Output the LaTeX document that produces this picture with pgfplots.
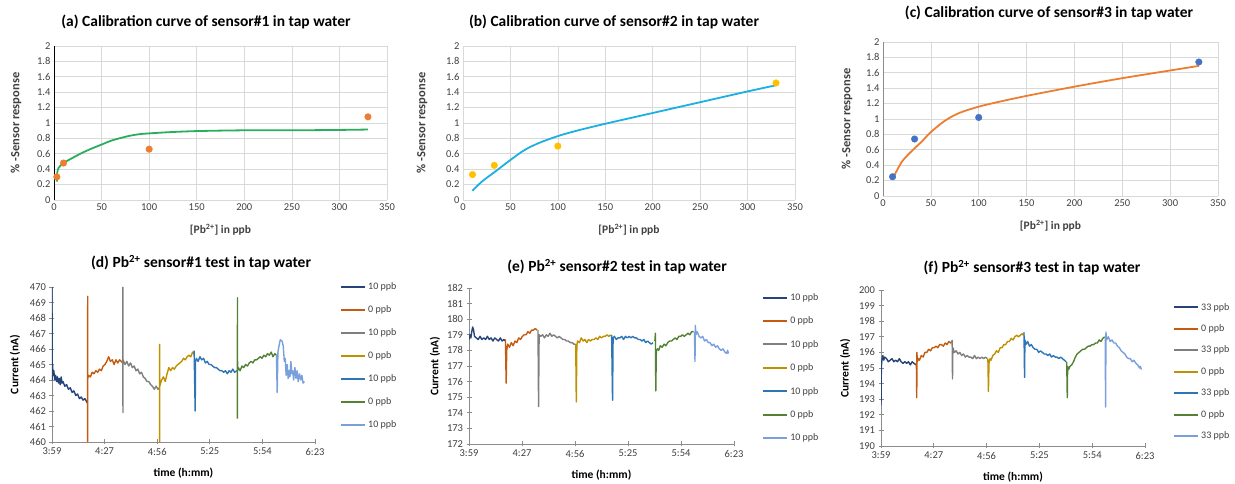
\documentclass[border=0pt]{standalone}
\usepackage{fontspec}
\setmainfont{Carlito}
\usepackage{pgfplots}
\pgfplotsset{compat=1.18}

\definecolor{txt}{HTML}{404040}
\definecolor{gridc}{HTML}{D9D9D9}
\definecolor{axc}{HTML}{8C8C8C}
\definecolor{fitgreen}{HTML}{2BAE5C}
\definecolor{fitcyan}{HTML}{1CB0E2}
\definecolor{fitorange}{HTML}{ED7D31}
\definecolor{ptorange}{HTML}{ED7D31}
\definecolor{ptyellow}{HTML}{FFC000}
\definecolor{ptblue}{HTML}{4472C4}
\definecolor{sA}{HTML}{264478}
\definecolor{sB}{HTML}{C55A11}
\definecolor{sC}{HTML}{7F7F7F}
\definecolor{sD}{HTML}{BF9000}
\definecolor{sE}{HTML}{2E75B6}
\definecolor{sF}{HTML}{548235}
\definecolor{sG}{HTML}{7A9FDD}

\pgfplotsset{
  calib/.style={
    scale only axis, width=333pt, height=154pt,
    xmin=0, xmax=350, ymin=0, ymax=2,
    xtick={0,50,100,150,200,250,300,350},
    ytick={0,0.2,0.4,0.6,0.8,1,1.2,1.4,1.6,1.8,2},
    grid=major, major grid style={gridc, line width=0.6pt},
    axis x line*=bottom, axis y line*=left,
    x axis line style={gridc, line width=0.8pt},
    tick style={draw=none},
    /pgf/number format/assume math mode=true,
    ticklabel style={font=\fontsize{10.5}{12}\selectfont, text=txt},
    xlabel={[Pb\textsuperscript{2+}] in ppb},
    ylabel={\% -Sensor response},
    xlabel style={font=\bfseries\fontsize{11.5}{13}\selectfont, text=txt,
      at={(axis description cs:0.5,-0.195)}, anchor=center},
    ylabel style={font=\bfseries\fontsize{12.5}{14}\selectfont, text=txt,
      anchor=center},
  },
  ts/.style={
    scale only axis, width=264pt, height=156pt,
    xmin=0, xmax=144,
    xtick={0,28.8,57.6,86.4,115.2,144},
    xticklabels={3:59,4:27,4:56,5:25,5:54,6:23},
    axis lines=left, axis line style={-, draw=axc, line width=0.8pt},
    tick align=center, major tick length=5pt,
    tick style={axc, line width=0.8pt},
    /pgf/number format/assume math mode=true,
    ticklabel style={font=\fontsize{10.5}{12}\selectfont, text=txt},
    xlabel={time (h:mm)},
    ylabel={Current (nA)},
    xlabel style={font=\bfseries\fontsize{11.5}{13}\selectfont, text=black,
      at={(axis description cs:0.5,-0.2)}, anchor=center},
    ylabel style={font=\bfseries\fontsize{11.5}{13}\selectfont, text=black,
      anchor=center},
    legend cell align=left,
    legend style={draw=none, fill=none, inner sep=0pt,
      font=\fontsize{10}{12}\selectfont, text=txt,
      row sep=11pt, anchor=north west},
    legend image code/.code={\draw[#1,line width=2pt] (0pt,0pt) -- (24pt,0pt);},
    every axis plot/.append style={line width=1.4pt, line join=round},
  },
}

\begin{document}
\begin{tikzpicture}[x=1pt,y=1pt]
\useasboundingbox (0,0) rectangle (1235,484);

% ---------- (a) ----------
\begin{axis}[calib, at={(54pt,284pt)}, anchor=south west,
  y axis line style={black, line width=1pt},
  ylabel style={at={(axis description cs:-0.114,0.5)}}]
\addplot[fitgreen, line width=1.8pt, smooth] coordinates {
(3,0.24) (3.5,0.36) (5,0.42) (10,0.48) (20,0.55) (30,0.615) (40,0.67) (50,0.72)
(60,0.77) (70,0.805) (80,0.835) (90,0.855) (100,0.865) (120,0.88) (150,0.895)
(200,0.905) (250,0.905) (300,0.91) (330,0.915)};
\addplot[only marks, mark=*, mark size=3.3pt, ptorange] coordinates {
(3,0.30) (10,0.48) (100,0.66) (330,1.08)};
\end{axis}

% ---------- (b) ----------
\begin{axis}[calib, at={(463pt,284pt)}, anchor=south west, width=332pt,
  y axis line style={gridc, line width=0.8pt},
  ylabel style={at={(axis description cs:-0.123,0.5)}}]
\addplot[fitcyan, line width=1.8pt, smooth] coordinates {
(10,0.12) (20,0.24) (33,0.36) (50,0.52) (65,0.65) (80,0.74) (100,0.83)
(120,0.90) (150,0.99) (200,1.13) (250,1.27) (300,1.41) (330,1.49)};
\addplot[only marks, mark=*, mark size=3.3pt, ptyellow] coordinates {
(10,0.33) (33,0.45) (100,0.70) (330,1.52)};
\end{axis}

% ---------- (c) ----------
\begin{axis}[calib, at={(883pt,288pt)}, anchor=south west, width=335pt,
  y axis line style={axc, line width=1pt},
  ylabel style={at={(axis description cs:-0.107,0.5)}}]
\addplot[fitorange, line width=1.8pt, smooth] coordinates {
(10,0.22) (20,0.45) (33,0.62) (40,0.70) (50,0.83) (65,0.98) (80,1.08)
(100,1.16) (120,1.22) (150,1.30) (200,1.42) (250,1.53) (300,1.63) (330,1.69)};
\addplot[only marks, mark=*, mark size=3.3pt, ptblue] coordinates {
(10,0.25) (33,0.74) (100,1.02) (330,1.74)};
\end{axis}

% ---------- (d) ----------
\begin{axis}[ts, at={(52pt,42pt)}, anchor=south west, width=263pt, height=155pt,
  ymin=460, ymax=470, ytick={460,461,...,470},
  ylabel style={at={(axis description cs:-0.141,0.5)}},
  legend style={at={(1.095,1.04)}, row sep=10.5pt}]
\addplot[sA] coordinates {(0,470) (0.1,464.0) (0.3,465.0) (0.6,464.3) (1,464.6) (1.5,464.0) (2,464.3) (2.5,463.9) (3,464.2) (3.5,463.8) (4,464.1) (4.5,463.7) (5,464.2) (5.5,463.8) (6,463.9) (7,463.6) (8,463.7) (9,463.4) (10,463.5) (11,463.2) (12,463.3) (13,463.0) (14,463.1) (15,462.8) (16,462.9) (17,462.7) (18,462.8) (19,462.6) (19.4,462.5)};
\addlegendentry{10 ppb}
\addplot[sB] coordinates {(19.5,459) (19.55,469.4) (19.6,464.1) (20,464.3) (21,464.2) (22,464.5) (23,464.4) (24,464.6) (25,464.5) (26,464.7) (27,464.6) (28,464.9) (29,465.0) (30,465.2) (31,465.5) (32,465.2) (33,465.3) (34,465.0) (35,465.3) (36,465.1) (37,465.3) (38,465.2) (38.7,465.1)};
\addlegendentry{0 ppb}
\addplot[sC] coordinates {(38.8,470) (38.85,461.9) (38.9,465.3) (40,465.0) (41,465.2) (42,464.9) (43,465.1) (44,464.8) (45,464.9) (46,464.6) (47,464.7) (48,464.4) (49,464.5) (50,464.2) (51,464.1) (52,463.9) (53,463.9) (54,463.7) (55,463.6) (56,463.4) (57,463.6) (58,463.4) (58.8,463.5)};
\addlegendentry{10 ppb}
\addplot[sD] coordinates {(58.9,459) (58.95,466.3) (59,463.6) (60,464.0) (61,464.2) (62,463.9) (63,464.4) (64,464.8) (65,464.6) (66,464.8) (67,464.7) (68,464.9) (69,465.0) (70,465.1) (71,465.2) (72,465.4) (73,465.3) (74,465.5) (75,465.6) (76,465.5) (77,465.8) (77.7,465.7)};
\addlegendentry{0 ppb}
\addplot[sE] coordinates {(77.8,465.9) (78.4,462.0) (78.6,465.2) (79,465.4) (80,465.2) (81,465.5) (82,465.3) (83,465.4) (84,465.1) (85,465.2) (86,465.0) (87,465.0) (88,464.9) (89,464.8) (90,464.8) (91,464.7) (92,464.6) (93,464.6) (94,464.5) (95,464.6) (96,464.4) (97,464.6) (98,464.5) (99,464.7) (100,464.5) (101.3,464.6)};
\addlegendentry{10 ppb}
\addplot[sF] coordinates {(101.5,461.5) (101.55,469.3) (101.6,464.6) (102,464.8) (103,464.6) (104,464.9) (105,464.8) (106,465.0) (107,464.9) (108,465.1) (109,465.2) (110,465.1) (111,465.3) (112,465.3) (113,465.4) (114,465.5) (115,465.4) (116,465.6) (117,465.5) (118,465.7) (119,465.6) (120,465.8) (121,465.5) (122,465.7) (122.8,465.6)};
\addlegendentry{0 ppb}
\addplot[sG] coordinates {(122.9,465.6) (123.3,463.2) (123.7,465.8) (124.3,466.2) (125,466.6) (126,466.5) (126.6,466.2) (127.2,465.2) (127.7,465.4) (128.2,464.3) (128.8,465.0) (129.3,464.1) (129.8,464.6) (130.3,464.2) (130.8,465.2) (131.3,464.4) (131.8,464.6) (132.3,464.0) (133,464.8) (133.6,464.1) (134.2,464.6) (134.8,463.9) (135.5,464.4) (136.2,464.0) (136.8,464.3) (137.5,463.8) (138.2,463.9)};
\addlegendentry{10 ppb}
\end{axis}

% ---------- (e) ----------
\begin{axis}[ts, at={(469pt,40pt)}, anchor=south west, width=265pt,
  ymin=172, ymax=182, ytick={172,173,...,182},
  ylabel style={at={(axis description cs:-0.128,0.5)}},
  legend style={at={(1.106,0.98)}, row sep=11pt}]
\addplot[sA] coordinates {(0,178.7) (0.5,179.0) (1,178.8) (1.5,179.2) (2,179.5) (2.5,179.3) (3,178.9) (4,178.8) (5,178.7) (6,178.9) (7,178.7) (8,178.8) (9,178.7) (10,178.9) (11,178.7) (12,178.8) (13,178.6) (14,178.8) (15,178.7) (16,178.6) (17,178.8) (18,178.6) (19,178.7) (19.7,178.6)};
\addlegendentry{10 ppb}
\addplot[sB] coordinates {(19.8,178.7) (20.2,175.9) (20.5,178.0) (21,178.4) (22,178.2) (23,178.5) (24,178.3) (25,178.6) (26,178.5) (27,178.8) (28,178.7) (29,178.9) (30,179.0) (31,179.0) (32,179.2) (33,179.1) (34,179.3) (35,179.3) (36,179.4) (37,179.3)};
\addlegendentry{0 ppb}
\addplot[sC] coordinates {(37.5,179.3) (37.8,174.4) (38.1,179.0) (39,178.9) (40,179.0) (41,178.8) (42,179.0) (43,178.9) (44,179.1) (45,178.9) (46,179.0) (47,178.9) (48,178.8) (49,178.9) (50,178.8) (51,178.7) (52,178.7) (53,178.6) (54,178.6) (55,178.5) (56,178.5) (57,178.4) (57.8,178.4)};
\addlegendentry{10 ppb}
\addplot[sD] coordinates {(58,178.4) (58.3,174.7) (58.6,178.3) (59,178.6) (60,178.5) (61,178.8) (62,178.6) (63,178.7) (64,178.5) (65,178.7) (66,178.6) (67,178.7) (68,178.7) (69,178.8) (70,178.7) (71,178.9) (72,178.8) (73,178.9) (74,178.9) (75,179.0) (76,178.9) (77,179.0)};
\addlegendentry{0 ppb}
\addplot[sE] coordinates {(77.5,179.0) (78,174.8) (78.3,178.8) (79,178.9) (80,178.7) (81,178.8) (82,178.8) (83,178.9) (84,178.7) (85,178.9) (86,178.8) (87,178.9) (88,178.8) (89,178.9) (90,178.8) (91,178.8) (92,178.7) (93,178.7) (94,178.6) (95,178.7) (96,178.5) (97,178.6) (98,178.5) (99,178.4) (100,178.5)};
\addlegendentry{10 ppb}
\addplot[sF] coordinates {(101,178.6) (101.3,179.1) (101.5,175.4) (101.8,178.0) (102.5,178.1) (103,178.0) (104,178.3) (105,178.2) (106,178.4) (107,178.3) (108,178.5) (109,178.6) (110,178.6) (111,178.7) (112,178.8) (113,178.7) (114,178.9) (115,178.9) (116,179.0) (117,178.9) (118,179.0) (119,179.1) (120,179.0) (121,179.2) (122,179.2)};
\addlegendentry{0 ppb}
\addplot[sG] coordinates {(122.5,179.2) (122.8,177.3) (123,179.6) (123.3,179.0) (124,179.2) (125,178.9) (126,178.8) (127,178.9) (128,178.6) (129,178.7) (130,178.5) (131,178.5) (132,178.3) (133,178.4) (134,178.2) (135,178.3) (136,178.1) (137,178.0) (138,178.1) (139,177.9) (140,177.8) (140.5,178.0) (141,177.8)};
\addlegendentry{10 ppb}
\end{axis}

% ---------- (f) ----------
\begin{axis}[ts, at={(881pt,38pt)}, anchor=south west,
  ymin=190, ymax=200, ytick={190,191,...,200},
  ylabel style={at={(axis description cs:-0.136,0.5)}},
  legend style={at={(1.106,0.93)}, row sep=9pt}]
\addplot[sA] coordinates {(0,192.6) (0.2,195.1) (0.5,195.5) (1,195.8) (1.5,195.5) (2,195.7) (3,195.6) (4,195.4) (5,195.5) (6,195.6) (7,195.4) (8,195.5) (9,195.4) (10,195.6) (11,195.4) (12,195.3) (13,195.4) (14,195.3) (15,195.4) (16,195.2) (17,195.4) (18,195.3) (19,195.2)};
\addlegendentry{33 ppb}
\addplot[sB] coordinates {(19.3,195.3) (19.5,193.1) (19.6,196.0) (19.8,195.4) (20.5,195.6) (21,195.5) (22,195.8) (23,195.7) (24,196.0) (25,196.0) (26,196.2) (27,196.1) (28,196.3) (29,196.3) (30,196.4) (31,196.3) (32,196.5) (33,196.5) (34,196.4) (35,196.6) (36,196.5) (37,196.7) (38,196.6) (38.6,196.7)};
\addlegendentry{0 ppb}
\addplot[sC] coordinates {(38.8,196.8) (39,194.3) (39.2,196.3) (40,196.0) (41,196.1) (42,195.9) (43,196.0) (44,195.8) (45,195.9) (46,195.7) (47,195.8) (48,195.7) (49,195.7) (50,195.6) (51,195.8) (52,195.6) (53,195.7) (54,195.6) (55,195.7) (56,195.6) (57,195.7) (58,195.6)};
\addlegendentry{33 ppb}
\addplot[sD] coordinates {(58.3,195.6) (58.6,193.5) (58.9,195.3) (59.5,195.6) (60,195.5) (61,195.8) (62,195.9) (63,196.1) (64,196.0) (65,196.3) (66,196.3) (67,196.5) (68,196.5) (69,196.7) (70,196.7) (71,196.9) (72,196.8) (73,197.0) (74,197.1) (75,197.0) (76,197.1) (77,197.2) (77.8,197.1)};
\addlegendentry{0 ppb}
\addplot[sE] coordinates {(78,197.3) (78.3,194.4) (78.5,196.8) (79,196.5) (80,196.7) (81,196.4) (82,196.5) (83,196.3) (84,196.2) (85,196.2) (86,196.0) (87,196.1) (88,196.0) (89,195.9) (90,195.9) (91,195.8) (92,195.9) (93,195.7) (94,195.8) (95,195.7) (96,195.7) (97,195.6) (98,195.7) (99,195.6) (100,195.5) (101,195.4)};
\addlegendentry{33 ppb}
\addplot[sF] coordinates {(101.3,195.4) (101.6,193.1) (101.8,195.1) (102.3,194.9) (103,195.1) (104,195.2) (105,195.4) (106,195.7) (107,195.9) (108,196.0) (109,196.1) (110,196.2) (111,196.2) (112,196.3) (113,196.4) (114,196.4) (115,196.5) (116,196.5) (117,196.6) (118,196.6) (119,196.8) (120,196.7) (121,196.9) (122,197.0)};
\addlegendentry{0 ppb}
\addplot[sG] coordinates {(122.3,196.9) (122.5,192.5) (122.7,197.3) (123,196.8) (124,197.0) (125,196.7) (126,196.8) (127,196.6) (128,196.6) (129,196.4) (130,196.3) (131,196.1) (132,196.0) (133,195.9) (134,195.7) (135,195.6) (136,195.6) (137,195.4) (138,195.5) (139,195.3) (140,195.2) (141,195.0) (141.5,195.1) (142,194.9)};
\addlegendentry{33 ppb}
\end{axis}

% ---------- titles ----------
\begin{scope}[every node/.style={font=\bfseries\fontsize{15.5}{17}\selectfont, text=black}]
\node at (206,462) {(a) Calibration curve of sensor\#1 in tap water};
\node at (614,462) {(b) Calibration curve of sensor\#2 in tap water};
\node at (1049,471) {(c) Calibration curve of sensor\#3 in tap water};
\node at (201,221) {(d) Pb\textsuperscript{2+} sensor\#1 test in tap water};
\node at (617,217) {(e) Pb\textsuperscript{2+} sensor\#2 test in tap water};
\node at (1032,216) {(f) Pb\textsuperscript{2+} sensor\#3 test in tap water};
\end{scope}
\end{tikzpicture}
\end{document}
